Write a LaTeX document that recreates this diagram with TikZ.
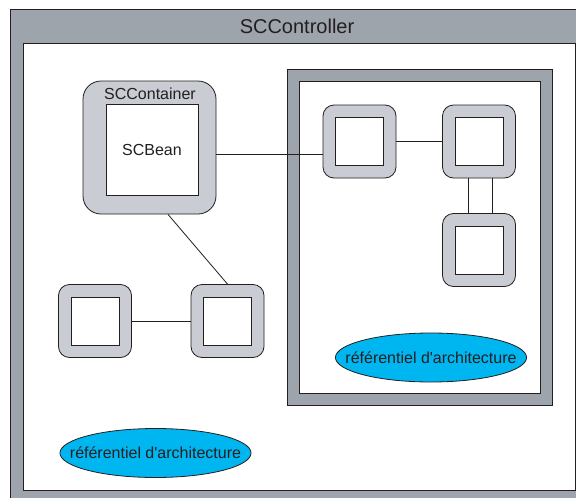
\documentclass[tikz,border=0pt]{standalone}
\usepackage{fontspec}
\setmainfont{Liberation Sans}
\usetikzlibrary{shapes.geometric}
\definecolor{framegray}{HTML}{9EA4AC}
\definecolor{ringgray}{HTML}{C9CCD3}
\definecolor{refcyan}{HTML}{00B6F0}
\definecolor{ink}{HTML}{231F20}
\begin{document}
\begin{tikzpicture}[x=1pt,y=-1pt,line width=0.8pt,
  ring/.style={draw=ink,fill=ringgray,rounded corners=11pt,minimum width=73pt,minimum height=73pt,inner sep=0pt},
  sq/.style={draw=ink,fill=white,minimum width=48pt,minimum height=48pt,inner sep=0pt},
  refell/.style={ellipse,draw=ink,fill=refcyan,inner xsep=-18pt,inner ysep=0pt,minimum height=49pt,text=ink,font=\fontsize{16}{18}\selectfont},
  link/.style={draw=ink,line width=0.8pt}]
\useasboundingbox (0,0) rectangle (576,498);
\clip (0,0) rectangle (576,498);
% SCController frame
\draw[draw=ink,fill=framegray] (10,9) rectangle (600,520);
\draw[draw=ink,fill=white] (23,43) rectangle (575,490);
\node[text=ink,font=\fontsize{20}{24}\selectfont] (title) at (297,26) {SCController};
% right frame
\draw[draw=ink,fill=framegray] (287,69) rectangle (552,405);
\draw[draw=ink,fill=white] (299,81) rectangle (540,393);
% SCContainer
\node[draw=ink,fill=ringgray,rounded corners=18pt,minimum width=133pt,minimum height=133pt,inner sep=0pt] (cont) at (149.5,147.5) {};
\node[text=ink,font=\fontsize{16}{18}\selectfont] (contlbl) at (150,94) {SCContainer};
\node[draw=ink,fill=white,minimum width=92pt,minimum height=91pt,inner sep=0pt,text=ink,font=\fontsize{16}{18}\selectfont] (bean) at (152,149.5) {SCBean};
% ring nodes
\node[ring] (A) at (359.5,141.5) {};
\node[sq] (Ai) at (359.5,141.5) {};
\node[ring] (B) at (479,141.5) {};
\node[sq] (Bi) at (479,141.5) {};
\node[ring] (C) at (479,250) {};
\node[sq] (Ci) at (479,250) {};
\node[ring] (D) at (95,321) {};
\node[sq] (Di) at (95,321) {};
\node[ring] (E) at (227.5,321) {};
\node[sq] (Ei) at (227.5,321) {};
% ellipses
\node[refell] (ref1) at (431,357.5) {référentiel d\textquotesingle architecture};
\node[refell] (ref2) at (155.5,453) {référentiel d\textquotesingle architecture};
% connectors
\draw[link] ([yshift=-6.5pt]cont.east) -- ([yshift=-12.5pt]A.west);
\draw[link] (A) -- (B);
\draw[link] ([xshift=-11pt]B.south) -- ([xshift=-11pt]C.north);
\draw[link] ([xshift=13pt]B.south) -- ([xshift=13pt]C.north);
\draw[link] (D) -- (E);
\draw[link] ([xshift=18.5pt]cont.south) -- (E.north);
\end{tikzpicture}
\end{document}
